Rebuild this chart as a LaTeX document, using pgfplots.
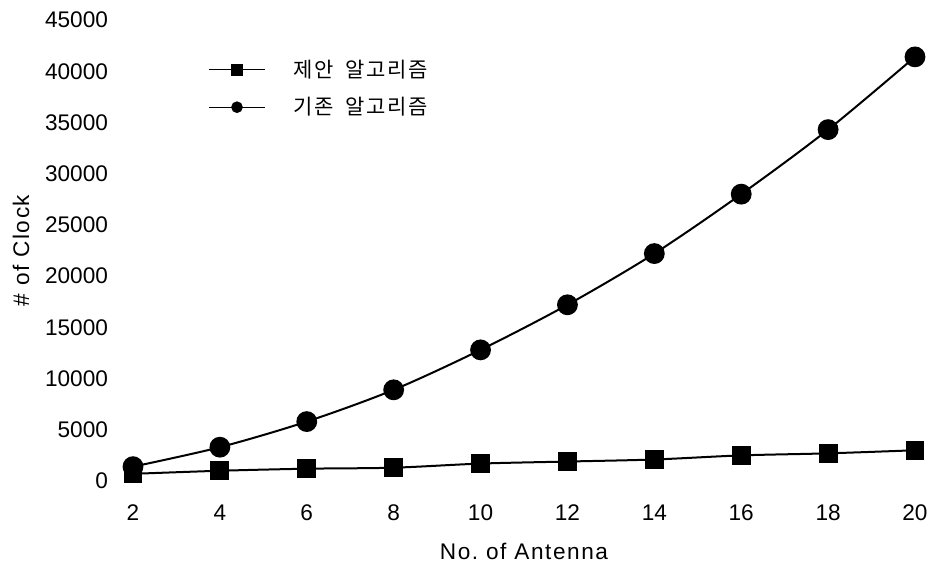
\documentclass[border=0pt]{standalone}
\usepackage{fontspec}
\setmainfont{Liberation Sans}
\newfontfamily\kr[LetterSpace=8]{Noto Sans CJK KR}
\newfontfamily\lbl[LetterSpace=7]{Liberation Sans}
\usepackage{pgfplots}
\pgfplotsset{compat=1.18}
\begin{document}
\begin{tikzpicture}
\useasboundingbox (-66.5pt,-41pt) rectangle (399.5pt,240.5pt);
\begin{axis}[
  scale only axis, width=391pt, height=230.5pt,
  xmin=2, xmax=20, ymin=0, ymax=45000,
  axis line style={draw=none},
  tick style={draw=none},
  xtick={2,4,...,20},
  ytick={0,5000,...,45000},
  scaled y ticks=false,
  /pgf/number format/assume math mode=true,
  /pgf/number format/1000 sep={},
  ticklabel style={font=\fontsize{11.3}{13}\selectfont},
  xticklabel shift=8.5pt, yticklabel shift=9pt,
  xlabel={No.\ of Antenna}, ylabel={\# of Clock},
  label style={font=\lbl\fontsize{11.3}{13}\selectfont},
  xlabel style={yshift=-4pt},
  ylabel style={yshift=1pt},
  clip=false,
  legend image code/.code={\draw[mark repeat=2,mark phase=2,#1,line width=0.6pt,mark size=2.6pt] plot coordinates {(0pt,0pt)(14pt,0pt)(28pt,0pt)};},
  legend style={draw=none, fill=none, at={(axis description cs:0.0959,0.8514)}, anchor=west,
    inner sep=0pt, font=\kr\fontsize{10.5}{12}\selectfont, row sep=4.5pt,
    /tikz/every odd column/.append style={column sep=12pt}},
  legend cell align=left,
]
\addplot[black, line width=1pt, smooth, tension=0.5, mark=square*, mark size=4.2pt] coordinates {
  (2,700) (4,1000) (6,1200) (8,1300) (10,1700) (12,1900) (14,2100) (16,2500) (18,2700) (20,3000)};
\addlegendentry{제안\hspace{6pt}알고리즘}
\addplot[black, line width=1pt, smooth, tension=0.5, mark=*, mark size=4.7pt] coordinates {
  (2,1400) (4,3300) (6,5800) (8,8900) (10,12800) (12,17200) (14,22200) (16,28000) (18,34300) (20,41400)};
\addlegendentry{기존\hspace{6pt}알고리즘}
\end{axis}
\end{tikzpicture}
\end{document}
